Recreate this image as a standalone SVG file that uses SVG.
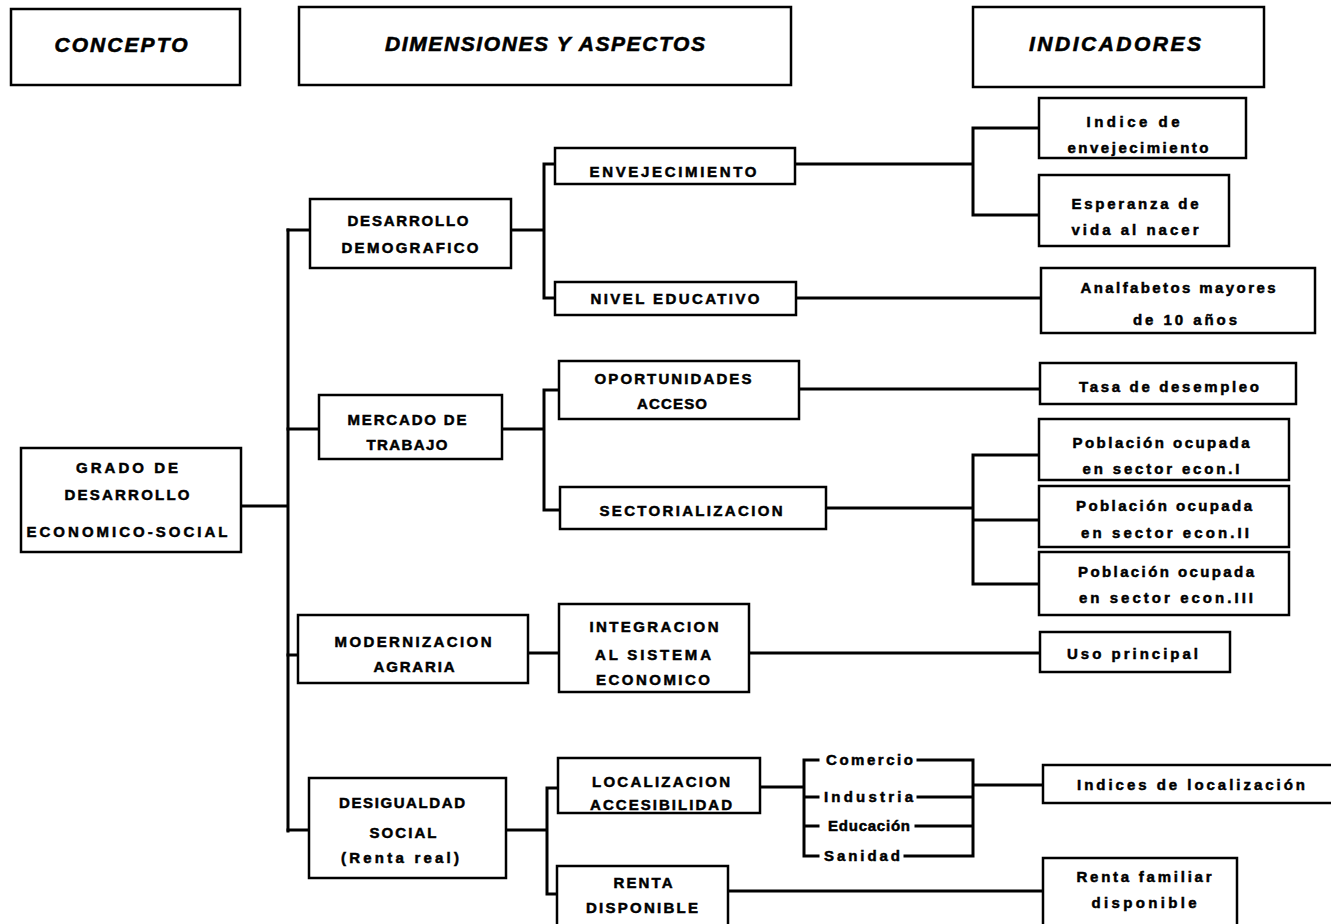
<svg xmlns="http://www.w3.org/2000/svg" width="1331" height="924" viewBox="0 0 1331 924">
<style>
  .box{fill:#fff;stroke:#000;stroke-width:2.5}
  .hd{fill:#fff;stroke:#000;stroke-width:2.5}
  .ht{font-family:"Liberation Sans",Arial,sans-serif;font-weight:bold;font-style:italic;font-size:21px;fill:#000;stroke:#000;stroke-width:0.6;text-anchor:middle}
  .t{font-family:"Liberation Sans",Arial,sans-serif;font-weight:bold;font-size:15px;fill:#000;stroke:#000;stroke-width:0.5;text-anchor:middle}
  .s{text-anchor:start}
  .c{fill:none;stroke:#000;stroke-width:3;stroke-linejoin:miter;stroke-linecap:square}
</style>
<rect width="1331" height="924" fill="#fff"/>

<g id="headers">
  <g id="h-concepto"><rect class="hd" x="11" y="9" width="229" height="76"/><text class="ht" x="121" y="52" textLength="133" lengthAdjust="spacing">CONCEPTO</text></g>
  <g id="h-dimensiones"><rect class="hd" x="299" y="7" width="492" height="78"/><text class="ht" x="545" y="51" textLength="320" lengthAdjust="spacing">DIMENSIONES Y ASPECTOS</text></g>
  <g id="h-indicadores"><rect class="hd" x="973" y="7" width="291" height="80"/><text class="ht" x="1115" y="51" textLength="172" lengthAdjust="spacing">INDICADORES</text></g>
</g>

<g id="connectors">
  <path class="c" d="M241 506H288M288 230V831"/>
  <path class="c" d="M288 230H310M288 429H319M288 655H298M288 830H309"/>
  <path class="c" d="M511 230H544M544 164V298M544 164H555M544 298H555"/>
  <path class="c" d="M502 429H544M544 390V510M544 390H559M544 510H560"/>
  <path class="c" d="M528 653H559"/>
  <path class="c" d="M506 830H547M547 788V894M547 788H558M547 894H557"/>
  <path class="c" d="M795 164H973M973 128V215M973 128H1039M973 215H1039"/>
  <path class="c" d="M796 298H1041"/>
  <path class="c" d="M799 389H1040"/>
  <path class="c" d="M826 508H973M973 455V584M973 455H1039M973 520H1039M973 584H1039"/>
  <path class="c" d="M749 653H1040"/>
  <path class="c" d="M760 787H804M804 760V856M804 760H818M804 797H818M804 826H818M804 856H818"/>
  <path class="c" d="M918 760H973M918 797H973M916 826H973M905 856H973M973 760V856M973 785H1043"/>
  <path class="c" d="M728 891H1043"/>
</g>

<g id="n-grado"><rect class="box" x="21" y="448" width="220" height="104"/>
  <text class="t" x="127" y="473" textLength="102" lengthAdjust="spacing">GRADO DE</text>
  <text class="t" x="127" y="500" textLength="125" lengthAdjust="spacing">DESARROLLO</text>
  <text class="t" x="127" y="537" textLength="201" lengthAdjust="spacing">ECONOMICO-SOCIAL</text></g>

<g id="n-demografico"><rect class="box" x="310" y="199" width="201" height="69"/>
  <text class="t" x="408" y="226" textLength="121" lengthAdjust="spacing">DESARROLLO</text>
  <text class="t" x="410" y="253" textLength="137" lengthAdjust="spacing">DEMOGRAFICO</text></g>

<g id="n-mercado"><rect class="box" x="319" y="395" width="183" height="64"/>
  <text class="t" x="407" y="425" textLength="119" lengthAdjust="spacing">MERCADO DE</text>
  <text class="t" x="407" y="450" textLength="81" lengthAdjust="spacing">TRABAJO</text></g>

<g id="n-modernizacion"><rect class="box" x="298" y="615" width="230" height="68"/>
  <text class="t" x="413" y="647" textLength="157" lengthAdjust="spacing">MODERNIZACION</text>
  <text class="t" x="414" y="672" textLength="81" lengthAdjust="spacing">AGRARIA</text></g>

<g id="n-desigualdad"><rect class="box" x="309" y="778" width="197" height="100"/>
  <text class="t" x="402" y="808" textLength="126" lengthAdjust="spacing">DESIGUALDAD</text>
  <text class="t" x="403" y="838" textLength="67" lengthAdjust="spacing">SOCIAL</text>
  <text class="t" x="400" y="863" textLength="118" lengthAdjust="spacing">(Renta real)</text></g>

<g id="n-envejecimiento"><rect class="box" x="555" y="148" width="240" height="36"/>
  <text class="t" x="673" y="177" textLength="167" lengthAdjust="spacing">ENVEJECIMIENTO</text></g>

<g id="n-nivel"><rect class="box" x="555" y="282" width="241" height="33"/>
  <text class="t" x="675" y="304" textLength="169" lengthAdjust="spacing">NIVEL EDUCATIVO</text></g>

<g id="n-oportunidades"><rect class="box" x="559" y="361" width="240" height="58"/>
  <text class="t" x="673" y="384" textLength="157" lengthAdjust="spacing">OPORTUNIDADES</text>
  <text class="t" x="672" y="409" textLength="70" lengthAdjust="spacing">ACCESO</text></g>

<g id="n-sectorializacion"><rect class="box" x="560" y="487" width="266" height="42"/>
  <text class="t" x="691" y="516" textLength="183" lengthAdjust="spacing">SECTORIALIZACION</text></g>

<g id="n-integracion"><rect class="box" x="559" y="604" width="190" height="88"/>
  <text class="t" x="654" y="632" textLength="129" lengthAdjust="spacing">INTEGRACION</text>
  <text class="t" x="653" y="660" textLength="116" lengthAdjust="spacing">AL SISTEMA</text>
  <text class="t" x="653" y="685" textLength="114" lengthAdjust="spacing">ECONOMICO</text></g>

<g id="n-localizacion"><rect class="box" x="558" y="758" width="202" height="55"/>
  <text class="t" x="661" y="787" textLength="138" lengthAdjust="spacing">LOCALIZACION</text>
  <text class="t" x="661" y="810" textLength="142" lengthAdjust="spacing">ACCESIBILIDAD</text></g>

<g id="n-renta"><rect class="box" x="557" y="866" width="171" height="70"/>
  <text class="t" x="643" y="888" textLength="59" lengthAdjust="spacing">RENTA</text>
  <text class="t" x="642" y="913" textLength="112" lengthAdjust="spacing">DISPONIBLE</text></g>

<g id="n-servicios">
  <text class="t s" x="826" y="765" textLength="87" lengthAdjust="spacing">Comercio</text>
  <text class="t s" x="824" y="802" textLength="89" lengthAdjust="spacing">Industria</text>
  <text class="t s" x="828" y="831" textLength="82" lengthAdjust="spacing">Educación</text>
  <text class="t s" x="824" y="861" textLength="76" lengthAdjust="spacing">Sanidad</text>
</g>

<g id="n-indice-env"><rect class="box" x="1039" y="98" width="207" height="60"/>
  <text class="t" x="1133" y="127" textLength="93" lengthAdjust="spacing">Indice de</text>
  <text class="t" x="1138" y="153" textLength="141" lengthAdjust="spacing">envejecimiento</text></g>

<g id="n-esperanza"><rect class="box" x="1039" y="175" width="190" height="71"/>
  <text class="t" x="1135" y="209" textLength="127" lengthAdjust="spacing">Esperanza de</text>
  <text class="t" x="1135" y="235" textLength="127" lengthAdjust="spacing">vida al nacer</text></g>

<g id="n-analfabetos"><rect class="box" x="1041" y="268" width="274" height="65"/>
  <text class="t" x="1178" y="293" textLength="195" lengthAdjust="spacing">Analfabetos mayores</text>
  <text class="t" x="1185" y="325" textLength="104" lengthAdjust="spacing">de 10 años</text></g>

<g id="n-tasa"><rect class="box" x="1040" y="363" width="256" height="41"/>
  <text class="t" x="1169" y="392" textLength="180" lengthAdjust="spacing">Tasa de desempleo</text></g>

<g id="n-pob1"><rect class="box" x="1039" y="419" width="250" height="61"/>
  <text class="t" x="1161" y="448" textLength="177" lengthAdjust="spacing">Población ocupada</text>
  <text class="t" x="1161" y="474" textLength="157" lengthAdjust="spacing">en sector econ.I</text></g>

<g id="n-pob2"><rect class="box" x="1039" y="486" width="250" height="61"/>
  <text class="t" x="1164" y="511" textLength="176" lengthAdjust="spacing">Población ocupada</text>
  <text class="t" x="1165" y="538" textLength="168" lengthAdjust="spacing">en sector econ.II</text></g>

<g id="n-pob3"><rect class="box" x="1039" y="552" width="250" height="63"/>
  <text class="t" x="1166" y="577" textLength="176" lengthAdjust="spacing">Población ocupada</text>
  <text class="t" x="1166" y="603" textLength="174" lengthAdjust="spacing">en sector econ.III</text></g>

<g id="n-uso"><rect class="box" x="1040" y="632" width="190" height="40"/>
  <text class="t s" x="1067" y="659" textLength="131" lengthAdjust="spacing">Uso principal</text></g>

<g id="n-indices-loc"><rect class="box" x="1043" y="765" width="300" height="38"/>
  <text class="t s" x="1077" y="790" textLength="228" lengthAdjust="spacing">Indices de localización</text></g>

<g id="n-renta-fam"><rect class="box" x="1043" y="858" width="194" height="70"/>
  <text class="t" x="1144" y="882" textLength="135" lengthAdjust="spacing">Renta familiar</text>
  <text class="t" x="1144" y="908" textLength="105" lengthAdjust="spacing">disponible</text></g>
</svg>
